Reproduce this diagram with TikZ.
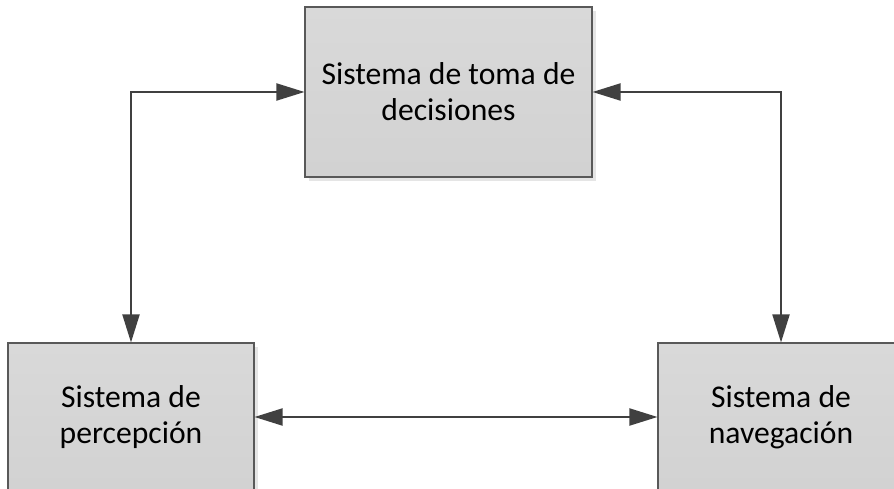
\documentclass[tikz,border=0pt]{standalone}
\usepackage{fontspec}
\setmainfont{Carlito}
\usepackage{tikz}
\usetikzlibrary{arrows.meta,shadows,positioning}

\definecolor{boxfill}{HTML}{D9D9D9}
\definecolor{boxedge}{HTML}{595959}
\definecolor{linkcol}{HTML}{404040}

\begin{document}
\begin{tikzpicture}
  \useasboundingbox (0,0) rectangle (17.88,9.76);
  \tikzset{
    sysbox/.style={draw=boxedge, line width=0.6pt, top color=boxfill, bottom color=boxfill!92!gray,
      align=center, font=\fontsize{18}{20.5}\selectfont, inner sep=0pt,
      drop shadow={shadow xshift=0.08cm, shadow yshift=-0.08cm, fill=gray!20, opacity=1}},
    link/.style={draw=linkcol, line width=1.1pt,
      {Triangle[length=0.56cm,width=0.34cm]}-{Triangle[length=0.56cm,width=0.34cm]}}
  }
  \node[sysbox, minimum width=5.74cm, minimum height=3.4cm] (dec) at (8.97,7.92) {Sistema de toma de\\decisiones};
  \node[sysbox, minimum width=4.92cm, minimum height=2.96cm] (perc) at (2.62,1.42) {Sistema de\\percepción};
  \node[sysbox, minimum width=4.92cm, minimum height=2.96cm] (nav) at (15.62,1.42) {Sistema de\\navegación};
  % links
  \draw[link] (perc.north) |- (dec.west);
  \draw[link] (nav.north) |- (dec.east);
  \draw[link] (perc.east) -- (nav.west);
\end{tikzpicture}
\end{document}
